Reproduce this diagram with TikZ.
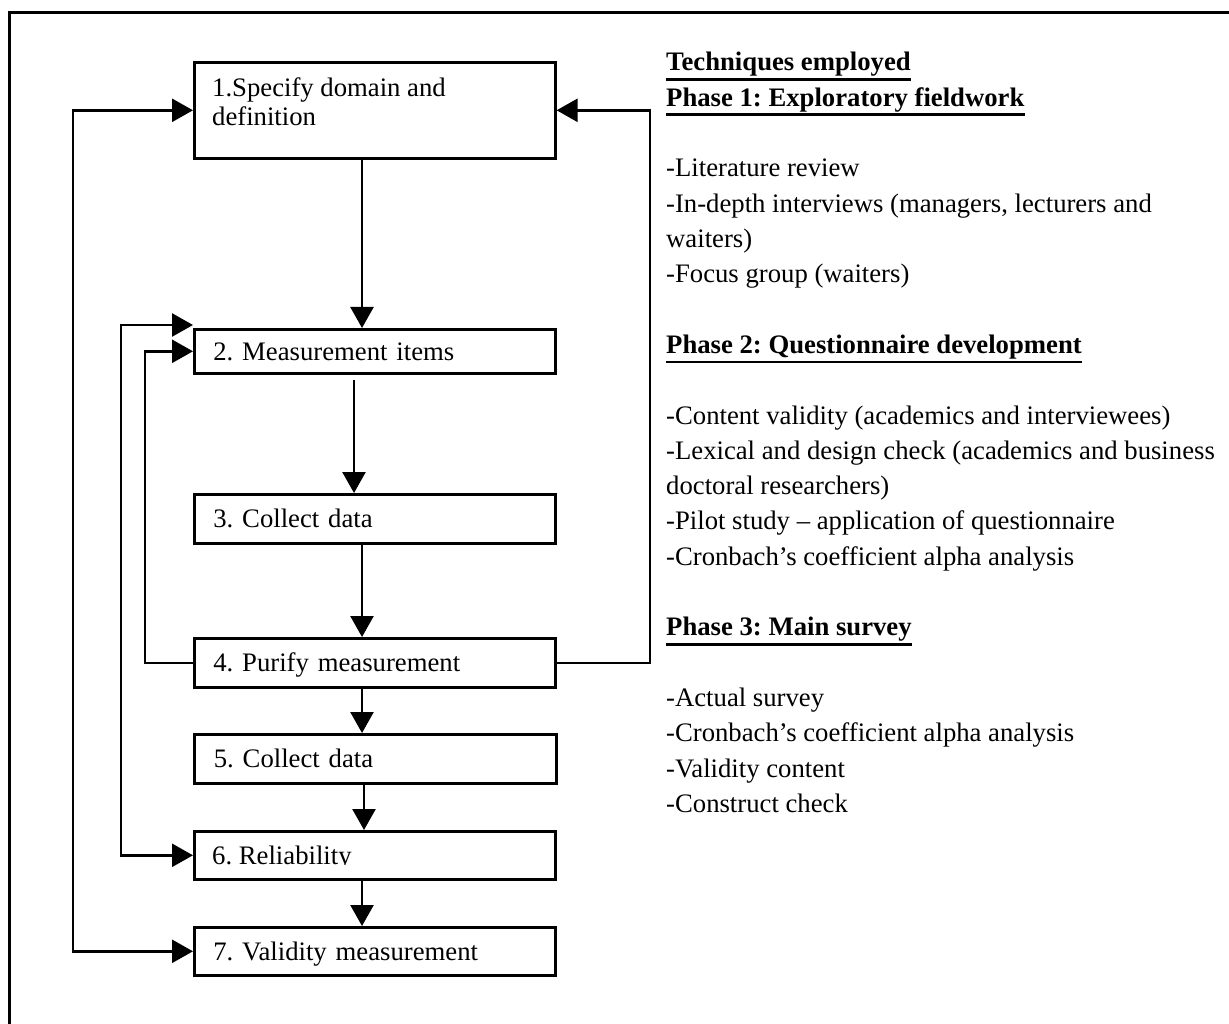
\documentclass[tikz,border=0pt]{standalone}
\usepackage{fontspec}
\setmainfont{Liberation Serif}
\usetikzlibrary{arrows.meta,calc}
\frenchspacing

\begin{document}
\begin{tikzpicture}[x=1pt,y=-1pt,
  stepbox/.style={draw, line width=2.6pt, inner xsep=19pt, inner ysep=0pt,
    anchor=north west, text width=323pt, align=left,
    text height=18pt, text depth=0pt,
    font=\fontsize{26.7}{28.5}\selectfont\frenchspacing},
  conn/.style={line width=2.5pt},
  tip/.style={-{Triangle[length=21pt,width=23pt]}},
  tips/.style={{Triangle[length=21pt,width=23pt]}-{Triangle[length=21pt,width=23pt]}},
  rt/.style={anchor=base west, inner sep=0pt, font=\fontsize{26.7}{30}\selectfont\frenchspacing},
  hd/.style={anchor=base west, inner sep=0pt, font=\fontsize{26.7}{30}\selectfont\bfseries\frenchspacing},
  uline/.style={line width=2.8pt},
  frame/.style={line width=3pt}]

\useasboundingbox (0,0) rectangle (1229,1024);

% outer frame (top and left edges)
\draw[frame] (9,1024) -- (9,13) -- (1229,13);

% process steps
\node[stepbox, minimum width=361pt, minimum height=96pt] (b1) at (193,61) {};
\node[anchor=north west, inner sep=0pt, align=left,
      font=\fontsize{26.7}{28.5}\selectfont\frenchspacing] (t1) at (212,78)
      {1.Specify domain and\\definition};
\node[stepbox, minimum width=361pt, minimum height=44pt] (b2) at (193,328) {2. Measurement items};
\node[stepbox, minimum width=361pt, minimum height=49pt] (b3) at (193,493) {3. Collect data};
\node[stepbox, minimum width=361pt, minimum height=49pt] (b4) at (193,637) {4. Purify measurement};
\node[stepbox, minimum width=362pt, minimum height=49pt] (b5) at (193,733) {5. Collect data};
\node[stepbox, minimum width=359pt, minimum height=48pt] (b6) at (193,830) {};
\begin{scope}
  \clip (b6.north west) rectangle ($(b6.east)+(0,9.5)$);
  \node[anchor=base west, inner sep=0pt, font=\fontsize{26.7}{28.5}\selectfont\frenchspacing]
    (t6) at ($(b6.west)+(19,9)$) {6. Reliability};
\end{scope}
\node[stepbox, minimum width=359pt, minimum height=48pt] (b7) at (193,926) {7. Validity measurement};

% connector columns
\coordinate (c1) at (362,0);
\coordinate (c2) at (354,0);
\coordinate (c3) at (364,0);
\coordinate (rx) at (650,0);
\coordinate (ox) at (73,0);
\coordinate (mx) at (121,0);
\coordinate (ix) at (145,0);
\coordinate (b2t) at ($(b2.north west)+(0,-3)$);

% main flow
\draw[conn,tip] (b1.south -| c1) -- (b2.north -| c1);
\draw[conn,tip] ($(b2.south -| c2)+(0,5)$) -- (b3.north -| c2);
\draw[conn,tip] (b3.south -| c1) -- (b4.north -| c1);
\draw[conn,tip] (b4.south -| c1) -- (b5.north -| c1);
\draw[conn,tip] (b5.south -| c3) -- (b6.north -| c3);
\draw[conn,tip] (b6.south -| c1) -- (b7.north -| c1);

% feedback loops
\draw[conn,tip] (b4.east) -- (b4.east -| rx) -- (b1.east -| rx) -- (b1.east);
\draw[conn,tips] (b1.west) -- (b1.west -| ox) -- (b7.west -| ox) -- (b7.west);
\draw[conn,tips] (b2t) -- (b2t -| mx) -- (b6.west -| mx) -- (b6.west);
\draw[conn,tip] (b4.west) -- (b4.west -| ix) -- (b2.west -| ix) -- (b2.west);

% techniques employed
\node[hd] (h0) at (666,71) {Techniques employed};
\node[hd] (h1) at (666,106.3) {Phase 1: Exploratory fieldwork};
\node[rt] (p1a) at (666,176.9) {-Literature review};
\node[rt] (p1b) at (666,212.2) {-In-depth interviews (managers, lecturers and};
\node[rt] (p1c) at (666,247.5) {waiters)};
\node[rt] (p1d) at (666,282.8) {-Focus group (waiters)};
\node[hd] (h2) at (666,353.4) {Phase 2: Questionnaire development};
\node[rt] (p2a) at (666,424) {-Content validity (academics and interviewees)};
\node[rt] (p2b) at (666,459.3) {-Lexical and design check (academics and business};
\node[rt] (p2c) at (666,494.6) {doctoral researchers)};
\node[rt] (p2d) at (666,529.9) {-Pilot study – application of questionnaire};
\node[rt] (p2e) at (666,565.2) {-Cronbach’s coefficient alpha analysis};
\node[hd] (h3) at (666,635.8) {Phase 3: Main survey};
\node[rt] (p3a) at (666,706.4) {-Actual survey};
\node[rt] (p3b) at (666,741.7) {-Cronbach’s coefficient alpha analysis};
\node[rt] (p3c) at (666,777) {-Validity content};
\node[rt] (p3d) at (666,812.3) {-Construct check};

\foreach \h in {h0,h1,h2,h3}
  \draw[uline] ($(\h.base west)+(0,8.5)$) -- ($(\h.base east)+(0,8.5)$);

\end{tikzpicture}
\end{document}
